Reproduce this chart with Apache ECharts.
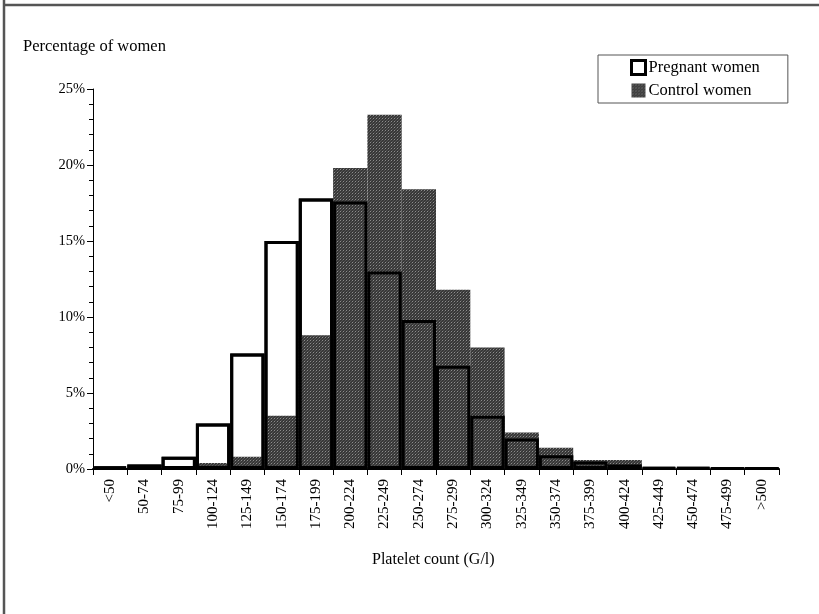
<!DOCTYPE html>
<html>
<head>
<meta charset="utf-8">
<script src="https://cdn.jsdelivr.net/npm/echarts@6/dist/echarts.min.js"></script>
<style>
  html, body { margin: 0; padding: 0; background: #fff; }
  #main { width: 819px; height: 614px; }
</style>
</head>
<body>
<div id="main"></div>
<script>
// platelet count classes (G/l)
var categories = ['<50', '50-74', '75-99', '100-124', '125-149', '150-174', '175-199',
  '200-224', '225-249', '250-274', '275-299', '300-324', '325-349', '350-374',
  '375-399', '400-424', '425-449', '450-474', '475-499', '>500'];
// percentage of women in each class
var pregnant = [0.15, 0.3, 0.8, 3.0, 7.6, 15.0, 17.8, 17.6, 13.0, 9.8, 6.8, 3.5, 2.0, 0.9, 0.5, 0.3, 0.1, 0.1, 0.05, 0.05];
var control = [0, 0, 0, 0.4, 0.8, 3.5, 8.8, 19.8, 23.3, 18.4, 11.8, 8.0, 2.4, 1.4, 0.6, 0.6, 0.1, 0.05, 0.05, 0];
var yTicks = [0, 5, 10, 15, 20, 25];

// grey dotted screen used for the control bars
var cv = document.createElement('canvas');
cv.width = 3; cv.height = 3;
var cx = cv.getContext('2d');
cx.fillStyle = '#383838'; cx.fillRect(0, 0, 3, 3);
cx.fillStyle = '#8c8c8c'; cx.fillRect(1, 1, 1, 1);
cx.fillStyle = '#555'; cx.fillRect(0, 2, 1, 1); cx.fillRect(2, 0, 1, 1);
var screen = { image: cv, repeat: 'repeat' };

var serif = '"Liberation Serif", "DejaVu Serif", serif';

var chartDom = document.getElementById('main');
var myChart = echarts.init(chartDom);
var option = {
  animation: false,
  backgroundColor: '#fff',
  grid: { left: 93, right: 40, top: 89, bottom: 145 },
  legend: {
    data: [
      { name: 'Pregnant women', itemStyle: { borderWidth: 3, borderColor: '#000', color: '#fff' } },
      { name: 'Control women' }
    ],
    orient: 'vertical',
    left: 598,
    top: 55,
    padding: [4, 28, 4, 32],
    itemWidth: 14,
    itemHeight: 14,
    itemGap: 6,
    borderColor: '#555',
    borderWidth: 1,
    borderRadius: 0,
    icon: 'rect',
    textStyle: { fontFamily: serif, fontSize: 16.5, lineHeight: 16, color: '#000', padding: [0, 0, 0, -2] }
  },
  xAxis: {
    type: 'category',
    data: categories,
    axisLine: { lineStyle: { color: '#000', width: 2 } },
    axisTick: { show: true, length: 6, lineStyle: { color: '#000' } },
    axisLabel: { rotate: 90, margin: 10, fontFamily: serif, fontSize: 15, color: '#000', interval: 0 }
  },
  yAxis: {
    type: 'value',
    min: yTicks[0],
    max: yTicks[yTicks.length - 1],
    interval: 5,
    splitLine: { show: false },
    axisLine: { show: true, lineStyle: { color: '#000', width: 1 } },
    axisTick: { show: true, length: 6, lineStyle: { color: '#000' } },
    minorTick: { show: true, splitNumber: 5, length: 4, lineStyle: { color: '#000' } },
    axisLabel: { formatter: '{value}%', margin: 8, fontFamily: serif, fontSize: 14.5, color: '#000' }
  },
  series: [
    {
      name: 'Pregnant women',
      type: 'bar',
      data: pregnant,
      barGap: '-100%',
      barCategoryGap: 0,
      itemStyle: { color: '#fff', borderColor: '#000', borderWidth: 3 },
      z: 2
    },
    {
      name: 'Control women',
      type: 'bar',
      data: control,
      barGap: '-100%',
      barCategoryGap: 0,
      itemStyle: { color: screen },
      z: 3
    },
    {
      name: 'pregnant-outline',
      type: 'bar',
      data: pregnant,
      barGap: '-100%',
      barCategoryGap: 0,
      itemStyle: { color: 'rgba(0,0,0,0)', borderColor: '#000', borderWidth: 3 },
      z: 4,
      silent: true
    }
  ],
  graphic: [
    { type: 'text', left: 23, top: 38, style: { text: 'Percentage of women', font: '16.5px ' + serif, fill: '#000' } },
    { type: 'text', left: 372, top: 552, style: { text: 'Platelet count (G/l)', font: '16px ' + serif, fill: '#000' } },
    { type: 'line', shape: { x1: 4, y1: 0, x2: 4, y2: 614 }, style: { stroke: '#555', lineWidth: 2.5 } },
    { type: 'line', shape: { x1: 3, y1: 5, x2: 819, y2: 5 }, style: { stroke: '#555', lineWidth: 2.5 } }
  ]
};
option && myChart.setOption(option);
</script>
</body>
</html>
